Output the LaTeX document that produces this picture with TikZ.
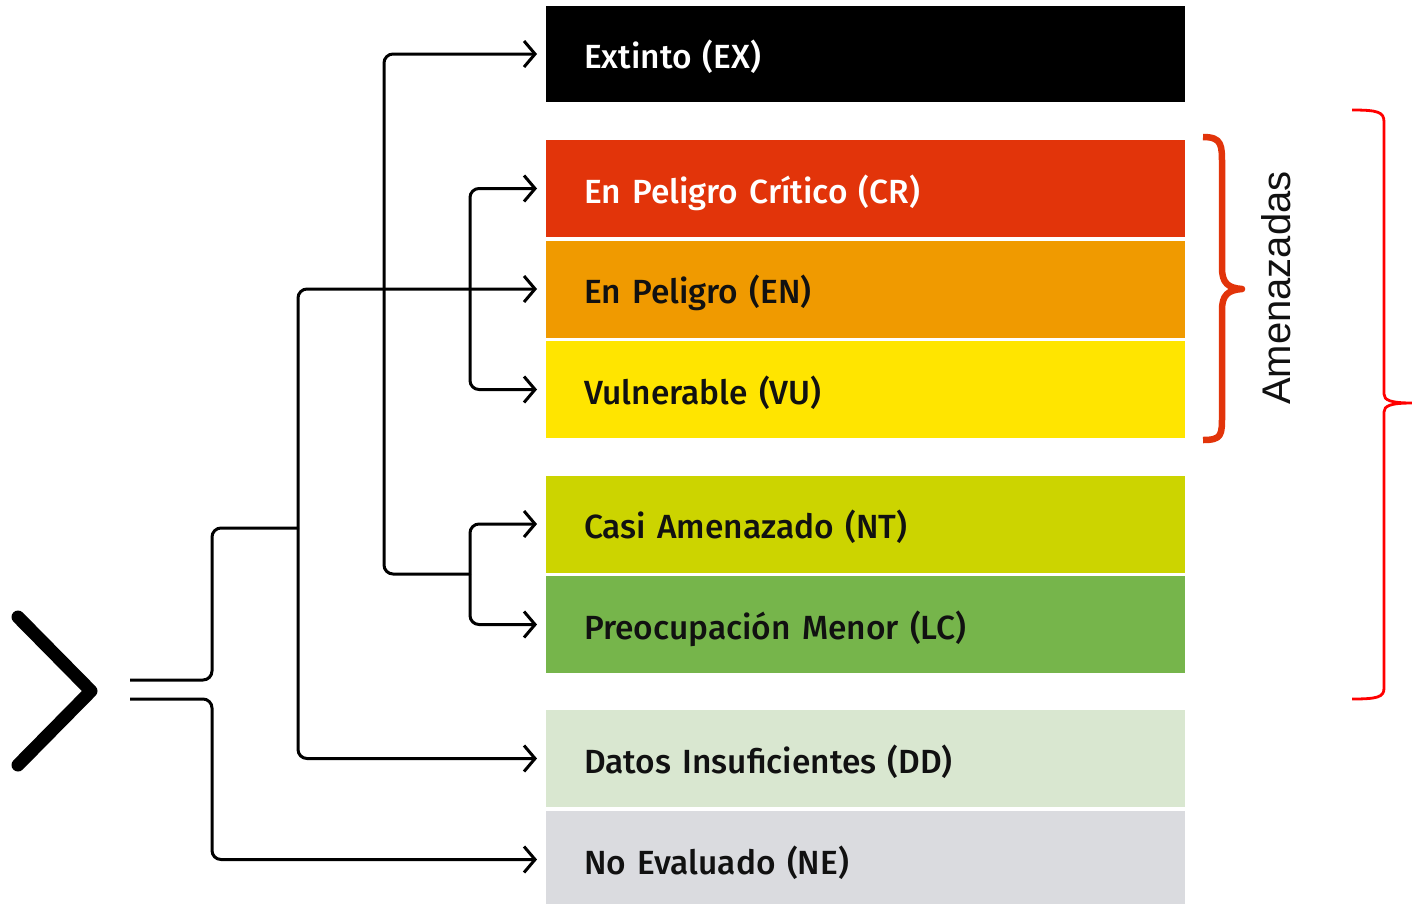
\documentclass[tikz,border=0pt]{standalone}
\usepackage{fontspec}
\usetikzlibrary{arrows.meta}
\newfontfamily\lab{Fira Sans}[UprightFont=* Medium]
\newfontfamily\arl{Liberation Sans}
\definecolor{cCR}{HTML}{E2340A}
\definecolor{cEN}{HTML}{F09A00}
\definecolor{cVU}{HTML}{FFE500}
\definecolor{cNT}{HTML}{CCD400}
\definecolor{cLC}{HTML}{76B54B}
\definecolor{cDD}{HTML}{D9E7D0}
\definecolor{cNE}{HTML}{DADBDF}
\definecolor{cTxt}{HTML}{111111}
\definecolor{cBrace}{HTML}{E2340A}
\definecolor{cRed}{HTML}{FF0000}
\tikzset{
  box/.style={minimum width=639pt, minimum height=97pt, text width=563pt, inner xsep=38pt, inner ysep=0pt, align=left, anchor=west, text height=36pt, text depth=7pt, font=\lab\fontsize{33.5}{38}\selectfont, text=cTxt},
  ln/.style={line width=3pt, rounded corners=9pt},
  arr/.style={ln, -{Straight Barb[length=11pt,width=26pt,line width=3pt]}, shorten >=9pt},
}
\begin{document}
\begin{tikzpicture}[x=1pt,y=-1pt]
\useasboundingbox (0,0) rectangle (1412,903);
% boxes
\node[box, fill=black, text=white, minimum height=96pt] (ex) at (546,54) {Extinto (EX)};
\node[box, fill=cCR, text=white] (cr) at (546,188.5) {En Peligro Crítico (CR)};
\node[box, fill=cEN] (en) at (546,289) {En Peligro (EN)};
\node[box, fill=cVU] (vu) at (546,389.5) {Vulnerable (VU)};
\node[box, fill=cNT] (nt) at (546,524) {Casi Amenazado (NT)};
\node[box, fill=cLC] (lc) at (546,624.5) {Preocupación Menor (LC)};
\node[box, fill=cDD] (dd) at (546,758.5) {Datos Insuficientes (DD)};
\node[box, fill=cNE] (ne) at (546,859.5) {No Evaluado (NE)};
% chevron
\draw[line width=13pt, line cap=round, line join=round] (18,617) -- (91,691) -- (18,765);
% junction coordinates
\coordinate (s1) at (130,680);
\coordinate (s2) at (130,699);
\coordinate (j1) at (298,528);
\coordinate (j2) at (470,574);
\coordinate (j3) at (470,289);
% connectors
\draw[ln] (s1) -- (212,680) -- (212,528) -- (j1);
\draw[arr] (s2) -- (212,699) |- (ne.west);
\draw[arr] (j1) |- (dd.west);
\draw[arr] (j1) |- (en.west);
\draw[arr] (j2) -- (384,574) |- (ex.west);
\draw[arr] (j2) |- (nt.west);
\draw[arr] (j2) |- (lc.west);
\draw[arr] (j3) |- (cr.west);
\draw[arr] (j3) |- (vu.west);
% orange brace
\draw[cBrace, line width=6.5pt, line join=round] (1203,137) .. controls (1222,137) and (1222,145) .. (1222,165)
  -- (1222,268) .. controls (1222,283) and (1228,288) .. (1242,289)
  .. controls (1228,290) and (1222,295) .. (1222,310)
  -- (1222,415) .. controls (1222,435) and (1222,440) .. (1203,440);
\node[rotate=90, font=\arl\fontsize{40}{46}\selectfont, text=cTxt] (am) at (1276,288) {Amenazadas};
% red brace
\draw[cRed, line width=2.8pt] (1352,110) .. controls (1378,110) and (1384,112) .. (1384,122)
  -- (1384,394) .. controls (1384,400) and (1390,403) .. (1412,403)
  .. controls (1390,403) and (1384,406) .. (1384,412)
  -- (1384,688) .. controls (1384,697) and (1378,699) .. (1352,699);
\end{tikzpicture}
\end{document}
